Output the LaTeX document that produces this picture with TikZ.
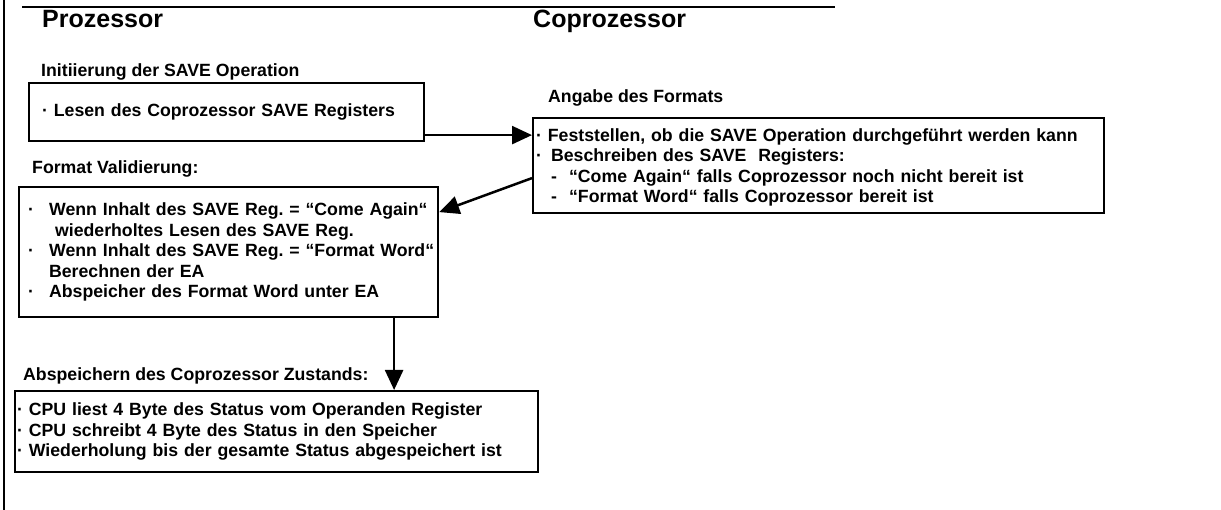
\documentclass[tikz,border=0pt]{standalone}
\usepackage{fontspec}
\setmainfont{Liberation Sans}
\usetikzlibrary{arrows.meta}

\newcommand{\bodyfont}{\bfseries\fontsize{17.7}{20.5}\selectfont\frenchspacing}
\newcommand{\headfont}{\bfseries\fontsize{25}{30}\selectfont}
\newcommand{\pt}[1]{\makebox[#1][l]{·}}

\tikzset{
  box/.style={draw, line width=2.2pt, anchor=north west, align=left,
    inner ysep=0pt, font=\bodyfont},
  lbl/.style={anchor=base west, inner sep=0pt, font=\bodyfont},
  head/.style={anchor=base west, inner sep=0pt, font=\headfont},
  arr/.style={line width=2.5pt, -{Triangle[length=20pt,width=18pt]}}
}

\begin{document}
\begin{tikzpicture}[x=1pt,y=-1pt]
\path[fill=white,use as bounding box] (0,0) rectangle (1221,510);

\draw[line width=2pt] (4,0) -- (4,510);
\draw[line width=2.5pt] (22,7) -- (835,7);

\node[head] (cpu) at (42,28) {Prozessor};
\node[head] (copro) at (533,28) {Coprozessor};

\node[lbl] (lblInit) at (41,77) {Initiierung der SAVE Operation};
\node[box, inner xsep=13pt, text width=369pt, minimum width=395pt,
  minimum height=58pt] (init) at (28,82)
  {· Lesen des Coprozessor SAVE Registers};

\node[lbl] (lblFormat) at (548,103) {Angabe des Formats};
\node[box, inner xsep=3pt, text width=565pt, minimum width=571pt,
  minimum height=95pt] (format) at (532,117)
  {\rule{0pt}{16pt}· Feststellen, ob die SAVE Operation durchgeführt werden kann\\
   \pt{15pt}Beschreiben des SAVE\ \ Registers:\\
   \hspace*{15pt}\makebox[18pt][l]{-}“Come Again“ falls Coprozessor noch nicht bereit ist\\
   \hspace*{15pt}\makebox[18pt][l]{-}“Format Word“ falls Coprozessor bereit ist};

\node[lbl] (lblValid) at (32,174) {Format Validierung:};
\node[box, inner xsep=2pt, text width=415pt, minimum width=419pt,
  minimum height=130pt] (valid) at (18,186)
  {\hspace*{7pt}\pt{21pt}Wenn Inhalt des SAVE Reg. = “Come Again“\\
   \hspace*{34pt}wiederholtes Lesen des SAVE Reg.\\
   \hspace*{7pt}\pt{21pt}Wenn Inhalt des SAVE Reg. = “Format Word“\\
   \hspace*{28pt}Berechnen der EA\\
   \hspace*{7pt}\pt{21pt}Abspeicher des Format Word unter EA};

\node[lbl] (lblSave) at (23,381) {Abspeichern des Coprozessor Zustands:};
\node[box, inner xsep=2pt, text width=519pt, minimum width=523pt,
  minimum height=81pt] (save) at (14,390)
  {· CPU liest 4 Byte des Status vom Operanden Register\\
   · CPU schreibt 4 Byte des Status in den Speicher\\
   · Wiederholung bis der gesamte Status abgespeichert ist};

\coordinate (a1) at ([yshift=-23pt]init.east);
\draw[arr] (a1) -- (a1 -| format.west);
\draw[arr] ([yshift=-12.5pt]format.west) -- ([yshift=40pt]valid.east);
\coordinate (a3) at ([xshift=165.5pt]valid.south);
\draw[arr] (a3) -- (a3 |- save.north);

\end{tikzpicture}
\end{document}
